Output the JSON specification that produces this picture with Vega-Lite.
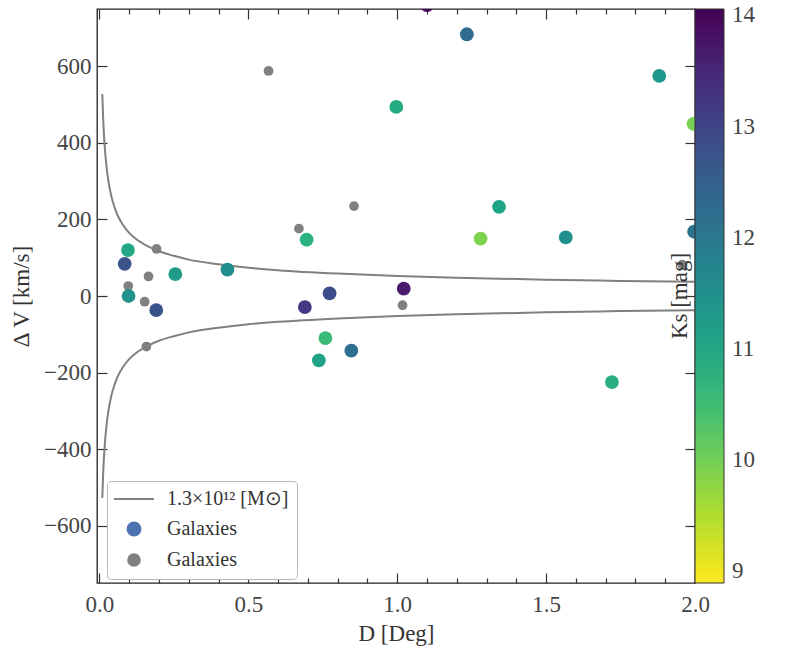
{
  "$schema": "https://vega.github.io/schema/vega-lite/v6.json",
  "width": 598,
  "height": 574,
  "autosize": "none",
  "padding": {"left": 97, "top": 9, "right": 94, "bottom": 67},
  "datasets": {
    "curve": [
      {"D": 0.0098, "V": 528, "branch": "up"},
      {"D": 0.012, "V": 477, "branch": "up"},
      {"D": 0.015, "V": 427, "branch": "up"},
      {"D": 0.02, "V": 370, "branch": "up"},
      {"D": 0.025, "V": 331, "branch": "up"},
      {"D": 0.03, "V": 302, "branch": "up"},
      {"D": 0.04, "V": 261, "branch": "up"},
      {"D": 0.05, "V": 234, "branch": "up"},
      {"D": 0.06, "V": 213, "branch": "up"},
      {"D": 0.08, "V": 185, "branch": "up"},
      {"D": 0.1, "V": 165, "branch": "up"},
      {"D": 0.13, "V": 145, "branch": "up"},
      {"D": 0.16, "V": 131, "branch": "up"},
      {"D": 0.2, "V": 117, "branch": "up"},
      {"D": 0.25, "V": 105, "branch": "up"},
      {"D": 0.3, "V": 95, "branch": "up"},
      {"D": 0.4, "V": 83, "branch": "up"},
      {"D": 0.5, "V": 74, "branch": "up"},
      {"D": 0.6, "V": 67.5, "branch": "up"},
      {"D": 0.8, "V": 58.5, "branch": "up"},
      {"D": 1.0, "V": 52.3, "branch": "up"},
      {"D": 1.2, "V": 47.7, "branch": "up"},
      {"D": 1.5, "V": 42.7, "branch": "up"},
      {"D": 1.75, "V": 39.5, "branch": "up"},
      {"D": 2.0, "V": 37, "branch": "up"},
      {"D": 0.0098, "V": -528, "branch": "down"},
      {"D": 0.012, "V": -477, "branch": "down"},
      {"D": 0.015, "V": -427, "branch": "down"},
      {"D": 0.02, "V": -370, "branch": "down"},
      {"D": 0.025, "V": -331, "branch": "down"},
      {"D": 0.03, "V": -302, "branch": "down"},
      {"D": 0.04, "V": -261, "branch": "down"},
      {"D": 0.05, "V": -234, "branch": "down"},
      {"D": 0.06, "V": -213, "branch": "down"},
      {"D": 0.08, "V": -185, "branch": "down"},
      {"D": 0.1, "V": -165, "branch": "down"},
      {"D": 0.13, "V": -145, "branch": "down"},
      {"D": 0.16, "V": -131, "branch": "down"},
      {"D": 0.2, "V": -117, "branch": "down"},
      {"D": 0.25, "V": -105, "branch": "down"},
      {"D": 0.3, "V": -95, "branch": "down"},
      {"D": 0.4, "V": -83, "branch": "down"},
      {"D": 0.5, "V": -74, "branch": "down"},
      {"D": 0.6, "V": -67.5, "branch": "down"},
      {"D": 0.8, "V": -58.5, "branch": "down"},
      {"D": 1.0, "V": -52.3, "branch": "down"},
      {"D": 1.2, "V": -47.7, "branch": "down"},
      {"D": 1.5, "V": -42.7, "branch": "down"},
      {"D": 1.75, "V": -39.5, "branch": "down"},
      {"D": 2.0, "V": -37, "branch": "down"}
    ],
    "grey": [
      {"D": 0.568, "V": 588},
      {"D": 0.855, "V": 235},
      {"D": 0.67, "V": 176},
      {"D": 0.192, "V": 123},
      {"D": 0.165, "V": 51},
      {"D": 0.097, "V": 26},
      {"D": 0.152, "V": -15},
      {"D": 1.018, "V": -24},
      {"D": 1.957, "V": 82},
      {"D": 0.158, "V": -132}
    ],
    "galaxies": [
      {"D": 1.1, "V": 760, "Ks": 14.0},
      {"D": 1.234, "V": 684, "Ks": 12.25},
      {"D": 0.997, "V": 494, "Ks": 10.9},
      {"D": 1.88, "V": 575, "Ks": 11.3},
      {"D": 1.995, "V": 450, "Ks": 9.95},
      {"D": 1.342, "V": 233, "Ks": 11.05},
      {"D": 1.28, "V": 150, "Ks": 9.9},
      {"D": 1.566, "V": 153, "Ks": 11.5},
      {"D": 1.997, "V": 168, "Ks": 12.1},
      {"D": 1.721, "V": -225, "Ks": 10.8},
      {"D": 0.696, "V": 147, "Ks": 10.75},
      {"D": 0.096, "V": 120, "Ks": 10.95},
      {"D": 0.085, "V": 84, "Ks": 12.75},
      {"D": 0.255, "V": 57, "Ks": 11.2},
      {"D": 0.43, "V": 69, "Ks": 11.55},
      {"D": 0.098, "V": 0, "Ks": 11.45},
      {"D": 0.191, "V": -37, "Ks": 12.75},
      {"D": 0.69, "V": -29, "Ks": 13.2},
      {"D": 0.773, "V": 7, "Ks": 12.9},
      {"D": 1.022, "V": 19, "Ks": 13.7},
      {"D": 0.759, "V": -110, "Ks": 10.55},
      {"D": 0.737, "V": -168, "Ks": 11.1},
      {"D": 0.846, "V": -143, "Ks": 12.2}
    ],
    "legendRows": [
      {"label": "1.3×10¹² [M⊙]"},
      {"label": "Galaxies"},
      {"label": "Galaxies "}
    ]
  },
  "layer": [
    {
      "data": {"name": "curve"},
      "transform": [{"filter": "datum.branch == 'up'"}],
      "mark": {"type": "line", "color": "#808080", "strokeWidth": 2, "interpolate": "monotone", "clip": true},
      "encoding": {
        "x": {
          "field": "D", "type": "quantitative",
          "scale": {"domain": [-0.008, 2.0], "nice": false, "zero": false},
          "axis": {"orient": "bottom", "values": [0, 0.5, 1, 1.5, 2], "format": ".1f", "labelFlush": false, "title": "D [Deg]", "tickSize": -10, "labelPadding": 20, "titlePadding": 6}
        },
        "y": {
          "field": "V", "type": "quantitative",
          "scale": {"domain": [-750, 750], "nice": false, "zero": false},
          "axis": {"orient": "left", "values": [-600, -400, -200, 0, 200, 400, 600], "labelFlush": false, "title": "Δ V [km/s]", "tickSize": -10, "labelPadding": 16, "titlePadding": 10}
        }
      }
    },
    {
      "data": {"name": "curve"},
      "transform": [{"filter": "datum.branch == 'down'"}],
      "mark": {"type": "line", "color": "#808080", "strokeWidth": 2, "interpolate": "monotone", "clip": true},
      "encoding": {
        "x": {
          "field": "D", "type": "quantitative",
          "axis": {"orient": "top", "values": [0, 0.5, 1, 1.5, 2], "labels": false, "title": null, "tickSize": -10}
        },
        "y": {
          "field": "V", "type": "quantitative",
          "axis": {"orient": "right", "values": [-600, -400, -200, 0, 200, 400, 600], "labels": false, "title": null, "tickSize": -10}
        }
      }
    },
    {
      "data": {"name": "grey"},
      "mark": {"type": "point", "filled": true, "size": 95, "opacity": 1, "color": "#808080", "clip": true},
      "encoding": {
        "x": {
          "field": "D", "type": "quantitative",
          "axis": {"orient": "bottom", "values": [0.1, 0.2, 0.3, 0.4, 0.6, 0.7, 0.8, 0.9, 1.1, 1.2, 1.3, 1.4, 1.6, 1.7, 1.8, 1.9], "labels": false, "title": null, "tickSize": -5}
        },
        "y": {"field": "V", "type": "quantitative", "axis": null}
      }
    },
    {
      "data": {"name": "galaxies"},
      "mark": {"type": "circle", "size": 190, "opacity": 1, "clip": true},
      "encoding": {
        "x": {
          "field": "D", "type": "quantitative",
          "axis": {"orient": "top", "values": [0.1, 0.2, 0.3, 0.4, 0.6, 0.7, 0.8, 0.9, 1.1, 1.2, 1.3, 1.4, 1.6, 1.7, 1.8, 1.9], "labels": false, "title": null, "tickSize": -5}
        },
        "y": {"field": "V", "type": "quantitative", "axis": null},
        "color": {
          "field": "Ks", "type": "quantitative",
          "scale": {"scheme": "viridis", "reverse": true, "domain": [8.895, 14.058], "nice": false, "zero": false},
          "legend": {
            "title": "Ks [mag]", "orient": "none", "legendX": 572, "legendY": 0,
            "direction": "vertical", "gradientLength": 574, "gradientThickness": 29,
            "gradientStrokeColor": "#333333", "gradientStrokeWidth": 1,
            "values": [9, 10, 11, 12, 13, 14], "format": "d",
            "labelFont": "Liberation Serif", "labelFontSize": 23, "labelColor": "#444444", "labelOffset": 8,
            "titleOrient": "left", "titleAngle": 270, "titleAnchor": "middle",
            "titleFont": "Liberation Serif", "titleFontSize": 23, "titleFontWeight": "normal", "titleColor": "#333333", "titlePadding": 2
          }
        }
      }
    },
    {
      "data": {"name": "legendRows"},
      "mark": {"type": "point", "filled": true, "opacity": 0},
      "encoding": {
        "fill": {
          "field": "label", "type": "nominal",
          "scale": {"domain": ["1.3×10¹² [M⊙]", "Galaxies", "Galaxies "], "range": ["transparent", "#4c72b0", "#808080"]},
          "legend": {
            "title": null, "orient": "none", "legendX": 10, "legendY": 472,
            "fillColor": "white", "strokeColor": "#b8b8b8", "cornerRadius": 4, "padding": 8,
            "symbolOffset": 9, "labelOffset": 23, "rowPadding": 8,
            "symbolStrokeWidth": 2, "symbolOpacity": 1,
            "labelFont": "Liberation Serif", "labelFontSize": 20, "labelColor": "#333333"
          }
        },
        "stroke": {
          "field": "label", "type": "nominal",
          "scale": {"domain": ["1.3×10¹² [M⊙]", "Galaxies", "Galaxies "], "range": ["#808080", "transparent", "transparent"]},
          "legend": {
            "title": null, "orient": "none", "legendX": 10, "legendY": 472,
            "fillColor": "white", "strokeColor": "#b8b8b8", "cornerRadius": 4, "padding": 8,
            "symbolOffset": 9, "labelOffset": 23, "rowPadding": 8,
            "symbolStrokeWidth": 2, "symbolOpacity": 1,
            "labelFont": "Liberation Serif", "labelFontSize": 20, "labelColor": "#333333"
          }
        },
        "shape": {
          "field": "label", "type": "nominal",
          "scale": {"domain": ["1.3×10¹² [M⊙]", "Galaxies", "Galaxies "], "range": ["M-2.5,0L2.5,0", "circle", "circle"]},
          "legend": {
            "title": null, "orient": "none", "legendX": 10, "legendY": 472,
            "fillColor": "white", "strokeColor": "#b8b8b8", "cornerRadius": 4, "padding": 8,
            "symbolOffset": 9, "labelOffset": 23, "rowPadding": 8,
            "symbolStrokeWidth": 2, "symbolOpacity": 1,
            "labelFont": "Liberation Serif", "labelFontSize": 20, "labelColor": "#333333"
          }
        },
        "size": {
          "field": "label", "type": "ordinal",
          "scale": {"domain": ["1.3×10¹² [M⊙]", "Galaxies", "Galaxies "], "range": [256, 185, 95]},
          "legend": {
            "title": null, "orient": "none", "legendX": 10, "legendY": 472,
            "fillColor": "white", "strokeColor": "#b8b8b8", "cornerRadius": 4, "padding": 8,
            "symbolOffset": 9, "labelOffset": 23, "rowPadding": 8,
            "symbolStrokeWidth": 2, "symbolOpacity": 1,
            "labelFont": "Liberation Serif", "labelFontSize": 20, "labelColor": "#333333"
          }
        }
      }
    }
  ],
  "resolve": {"axis": {"x": "independent", "y": "independent"}},
  "config": {
    "view": {"stroke": "#222222", "strokeWidth": 1.3},
    "axis": {
      "domain": false, "grid": false,
      "tickColor": "#333333", "tickWidth": 1.2,
      "labelFont": "Liberation Serif", "labelFontSize": 23, "labelColor": "#444444",
      "titleFont": "Liberation Serif", "titleFontSize": 23, "titleFontWeight": "normal", "titleColor": "#333333"
    }
  }
}
